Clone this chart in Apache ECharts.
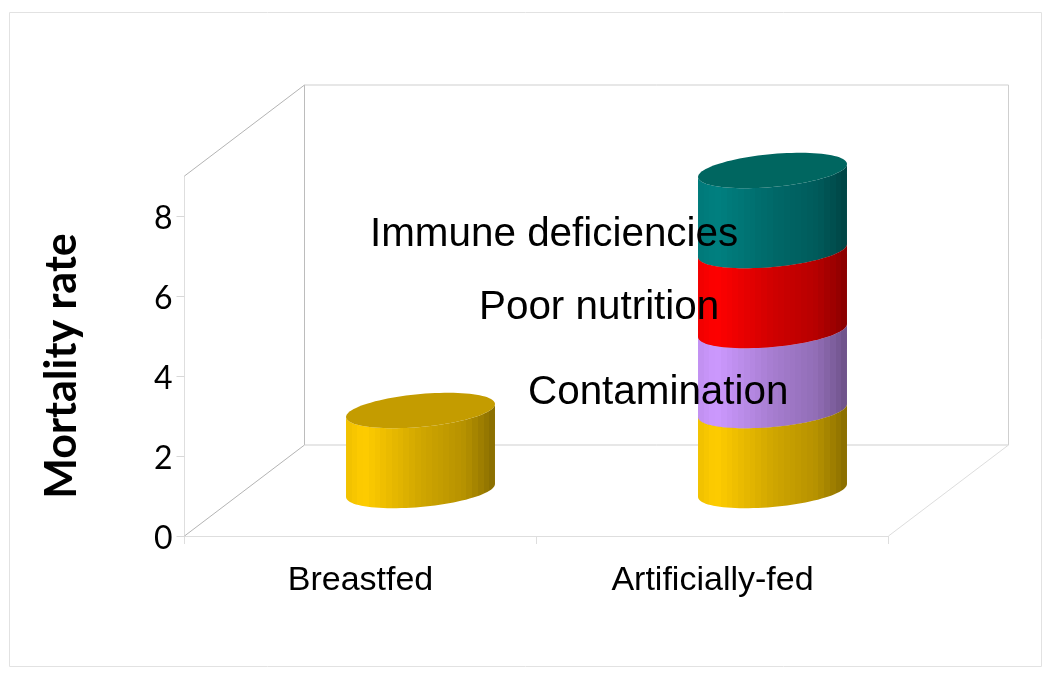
<!DOCTYPE html>
<html>
<head>
<meta charset="utf-8">
<style>html,body{margin:0;padding:0;background:#fff}#c{width:1050px;height:673px}</style>
<script src="https://cdn.jsdelivr.net/npm/echarts@6/dist/echarts.min.js"></script>
</head>
<body>
<div id="c"></div>
<script>
var categories = ['Breastfed', 'Artificially-fed'];
var yTicks = [0, 2, 4, 6, 8];
var base = [2, 2];
var contamination = [0, 2];
var poorNutrition = [0, 2];
var immuneDeficiencies = [0, 2];
var annotations = ['Contamination', 'Poor nutrition', 'Immune deficiencies'];

var DEPTH_X = 120, DEPTH_Y = 91;

function shade(p) {
  if (p < 0.12) return 0.12 * (0.12 - p) / 0.12;
  if (p < 0.5) return 0.37 * (p - 0.12) / 0.38;
  if (p < 0.8) return 0.37 + 0.21 * (p - 0.5) / 0.3;
  return 0.58 + 0.36 * (p - 0.8) / 0.2;
}
function bands(hi, lo) {
  var n = 26, stops = [];
  function mix(p) {
    var t = shade(p);
    return 'rgb(' + hi.map(function (c, i) { return Math.round(c + (lo[i] - c) * t); }).join(',') + ')';
  }
  for (var i = 0; i < n; i++) {
    var c = mix((i + 0.5) / n);
    stops.push({ offset: i / n, color: c }, { offset: (i + 1) / n, color: c });
  }
  return { type: 'linear', x: 0, y: 0, x2: 1, y2: 0, colorStops: stops };
}

function cylinder(hi, lo, cap) {
  var fill = bands(hi, lo);
  return function (params, api) {
    var h = api.value(2) - api.value(1);
    if (!(h > 0)) return null;
    var band = api.size([1, 0])[0];
    var a = band * 0.2116, b = 16.5, k = 6.5;
    var p0 = api.coord([api.value(0), api.value(1)]);
    var p1 = api.coord([api.value(0), api.value(2)]);
    var cx = p0[0] + DEPTH_X / 2, yBot = p0[1] - DEPTH_Y / 2, yTop = p1[1] - DEPTH_Y / 2;
    function pt(cy, t) {
      return [cx + a * Math.cos(t), cy - k * Math.cos(t) + b * Math.sin(t)];
    }
    var body = [], top = [], i, N = 48;
    for (i = 0; i <= N; i++) body.push(pt(yBot, Math.PI - Math.PI * i / N));
    for (i = 0; i <= N; i++) body.push(pt(yTop, Math.PI * i / N));
    for (i = 0; i < 2 * N; i++) top.push(pt(yTop, Math.PI * i / N));
    return {
      type: 'group',
      children: [
        { type: 'polygon', shape: { points: body }, style: { fill: fill } },
        { type: 'polygon', shape: { points: top }, style: { fill: cap } }
      ]
    };
  };
}

function frame(params, api) {
  var s = params.coordSys;
  var L = s.x, R = s.x + s.width, T = s.y, B = s.y + s.height;
  var bl = L + DEPTH_X, br = R + DEPTH_X, bt = T - DEPTH_Y, bb = B - DEPTH_Y;
  function line(x1, y1, x2, y2, c) {
    return { type: 'line', shape: { x1: x1, y1: y1, x2: x2, y2: y2 }, style: { stroke: c, lineWidth: 1 } };
  }
  var kids = [
    line(L, T, bl, bt, '#b4b4b4'),
    line(L, B, bl, bb, '#b4b4b4'),
    line(bl, bt, bl, bb, '#bcbcbc'),
    line(bl, bt, br, bt, '#cfcfcf'),
    line(br, bt, br, bb, '#cfcfcf'),
    line(bl, bb, br, bb, '#cfcfcf'),
    line(R, B, br, bb, '#dddddd')
  ];
  yTicks.forEach(function (v) {
    var y = api.coord([0, v])[1] + 0.5;
    kids.push(line(L - 8, y, L, y, '#d8d8d8'));
  });
  return { type: 'group', children: kids };
}

function stackData(lower, vals) {
  return vals.map(function (v, i) { return [i, lower[i], lower[i] + v]; });
}
var s0 = categories.map(function () { return 0; });
var s1 = base.map(function (v, i) { return s0[i] + v; });
var s2 = contamination.map(function (v, i) { return s1[i] + v; });
var s3 = poorNutrition.map(function (v, i) { return s2[i] + v; });

var chart = echarts.init(document.getElementById('c'), null, { renderer: 'canvas' });
chart.setOption({
  animation: false,
  backgroundColor: '#fff',
  grid: { left: 184.5, right: 161.5, top: 176, bottom: 137 },
  xAxis: {
    type: 'category',
    data: categories,
    axisLine: { lineStyle: { color: '#dedede', width: 1 } },
    axisTick: { show: true, length: 8, lineStyle: { color: '#dedede', width: 1 } },
    axisLabel: { color: '#000', fontFamily: 'Liberation Sans', fontSize: 34, margin: 28 }
  },
  yAxis: {
    type: 'value',
    min: 0, max: 9, interval: 2,
    name: 'Mortality rate',
    nameLocation: 'middle',
    nameGap: 101,
    nameRotate: 90,
    nameTextStyle: { color: '#000', fontFamily: 'Lato', fontWeight: 'bold', fontSize: 43, padding: [0, 20, 0, 0] },
    splitLine: { show: false },
    axisLine: { show: true, lineStyle: { color: '#dedede', width: 1 } },
    axisTick: { show: false },
    axisLabel: { color: '#000', fontFamily: 'Lato', fontSize: 32, margin: 12, verticalAlign: 'top', lineHeight: 6, customValues: yTicks }
  },
  graphic: [
    { type: 'rect', z: -10, silent: true, shape: { x: 9.5, y: 12.5, width: 1032, height: 654 },
      style: { fill: 'none', stroke: '#e2e2e2', lineWidth: 1 } },
    { type: 'text', z: 100, x: 370, y: 235, style: { text: annotations[2], fill: '#000', font: '40.4px "Liberation Sans"', textVerticalAlign: 'middle' } },
    { type: 'text', z: 100, x: 479, y: 308, style: { text: annotations[1], fill: '#000', font: '40.4px "Liberation Sans"', textVerticalAlign: 'middle' } },
    { type: 'text', z: 100, x: 528, y: 393, style: { text: annotations[0], fill: '#000', font: '40.4px "Liberation Sans"', textVerticalAlign: 'middle' } }
  ],
  series: [
    { name: 'frame', type: 'custom', z: 1, silent: true, clip: false, renderItem: frame, data: [[0, 0]] },
    { name: 'Base', type: 'custom', z: 2, clip: false, data: stackData(s0, base), encode: { x: 0, y: 2 },
      renderItem: cylinder([255, 204, 0], [128, 102, 0], '#c49c00') },
    { name: 'Contamination', type: 'custom', z: 3, clip: false, data: stackData(s1, contamination), encode: { x: 0, y: 2 },
      renderItem: cylinder([204, 153, 255], [102, 77, 128], '#a37acc') },
    { name: 'Poor nutrition', type: 'custom', z: 4, clip: false, data: stackData(s2, poorNutrition), encode: { x: 0, y: 2 },
      renderItem: cylinder([255, 0, 0], [128, 0, 0], '#cc0000') },
    { name: 'Immune deficiencies', type: 'custom', z: 5, clip: false, data: stackData(s3, immuneDeficiencies), encode: { x: 0, y: 2 },
      renderItem: cylinder([0, 128, 128], [0, 64, 64], '#006660') }
  ]
});
</script>
</body>
</html>
